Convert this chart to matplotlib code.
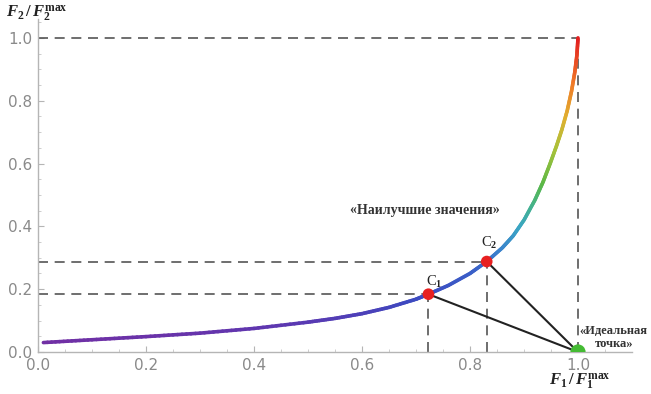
import numpy as np
import matplotlib
matplotlib.use("Agg")
import matplotlib.pyplot as plt
from matplotlib.collections import LineCollection
from matplotlib.colors import LinearSegmentedColormap

plt.rcParams['mathtext.fontset'] = 'custom'
plt.rcParams['mathtext.rm'] = 'Liberation Serif:bold'
plt.rcParams['mathtext.it'] = 'Liberation Serif:italic:bold'

# Pareto front
curve_x = [0.010, 0.100, 0.200, 0.300, 0.400, 0.500, 0.550, 0.600, 0.650, 0.700,
           0.723, 0.760, 0.800, 0.831, 0.860, 0.880, 0.900, 0.920, 0.935, 0.948,
           0.960, 0.970, 0.980, 0.988, 0.994, 0.998, 1.000]
curve_y = [0.030, 0.039, 0.049, 0.060, 0.075, 0.095, 0.107, 0.122, 0.142, 0.168,
           0.184, 0.212, 0.250, 0.288, 0.332, 0.370, 0.420, 0.483, 0.540, 0.598,
           0.655, 0.707, 0.768, 0.830, 0.890, 0.945, 1.000]

# Selected solutions C1, C2 and the ideal point
pt_labels = ['C$_1$', 'C$_2$']
pt_x = [0.723, 0.831]
pt_y = [0.184, 0.288]
ideal_x = 1.0
ideal_y = 0.0

xticks = [0.0, 0.2, 0.4, 0.6, 0.8, 1.0]
yticks = [0.0, 0.2, 0.4, 0.6, 0.8, 1.0]

fig = plt.figure(figsize=(6.51, 3.94), dpi=100)
ax = fig.add_axes([38/651, 42/394, 594/651, 333/394])
ax.set_xlim(0, 1.1)
ax.set_ylim(0, 1.06)

# gradient coloured curve
cmap = LinearSegmentedColormap.from_list('rb', [
    (0.00, '#7b2c9e'), (0.08, '#5e37b0'), (0.16, '#3d49c0'), (0.26, '#3a60c8'),
    (0.33, '#3a84cc'), (0.40, '#3aa6c4'), (0.47, '#45b38a'), (0.54, '#5cb845'),
    (0.65, '#a9c23a'), (0.75, '#e0b030'), (0.86, '#f07a28'), (1.00, '#e32020')])
xs, ys = [], []
for i in range(len(curve_x) - 1):
    for t in np.linspace(0, 1, 12, endpoint=False):
        xs.append(curve_x[i] + t * (curve_x[i+1] - curve_x[i]))
        ys.append(curve_y[i] + t * (curve_y[i+1] - curve_y[i]))
xs.append(curve_x[-1]); ys.append(curve_y[-1])
xs = np.array(xs); ys = np.array(ys)
pts = np.column_stack([xs, ys]).reshape(-1, 1, 2)
segs = np.concatenate([pts[:-1], pts[1:]], axis=1)
lc = LineCollection(segs, cmap=cmap, linewidths=2.6, capstyle='round', zorder=3)
lc.set_array((ys[:-1] + ys[1:]) / 2)
lc.set_clim(0, 1)
ax.add_collection(lc)

dash = dict(color='#555555', lw=1.2, dashes=(6, 4), zorder=2)
ax.plot([0, 1], [1, 1], **dash)
ax.plot([1, 1], [0, 1], **dash)
for px, py in zip(pt_x, pt_y):
    ax.plot([0, px], [py, py], **dash)
    ax.plot([px, px], [0, py], **dash)
    ax.plot([px, ideal_x], [py, ideal_y], color='#222222', lw=1.5, zorder=4)

ax.scatter(pt_x, pt_y, s=70, color='#e82020', zorder=5, edgecolors='none')
ax.scatter([ideal_x], [ideal_y], s=120, color='#44bb33', zorder=5, edgecolors='none')

for lab, px, py, dx, dy in zip(pt_labels, pt_x, pt_y, [0.01, 0.005], [0.038, 0.058]):
    ax.text(px + dx, py + dy, lab, fontsize=10.5, family='Liberation Serif',
            ha='center', va='center', color='#222222')

ax.text(0.717, 0.452, '«Наилучшие значения»', fontsize=10, family='Liberation Serif',
        weight='bold', ha='center', va='center', color='#333333')
ax.text(1.066, 0.047, '«Идеальная\nточка»', fontsize=9, family='Liberation Serif',
        weight='bold', ha='center', va='center', color='#333333', linespacing=1.15)

for s in ['top', 'right']:
    ax.spines[s].set_visible(False)
for s in ['left', 'bottom']:
    ax.spines[s].set_color('#b5b5b5')
    ax.spines[s].set_linewidth(1.0)

ax.set_xticks(xticks)
ax.set_yticks(yticks)
ax.set_xticklabels([f'{v:.1f}' for v in xticks])
ax.set_yticklabels([f'{v:.1f}' for v in yticks])
ax.set_xticks(np.arange(0, 1.1, 0.05), minor=True)
ax.set_yticks(np.arange(0, 1.06, 0.05), minor=True)
ax.tick_params(which='major', direction='in', length=4, color='#b5b5b5',
               labelsize=11, labelcolor='#8a8a8a', pad=4)
ax.tick_params(which='minor', direction='in', length=2, color='#c5c5c5')

fig.text(6/651, 1 - 14/394, r'$F_2\,/\,F_2^{\rm max}$', fontsize=12, ha='left', va='center',
         color='#222222')
fig.text(580/651, 1 - 382/394, r'$F_1\,/\,F_1^{\rm max}$', fontsize=12, ha='center', va='center',
         color='#222222')

fig.savefig('out.png', dpi=100)
